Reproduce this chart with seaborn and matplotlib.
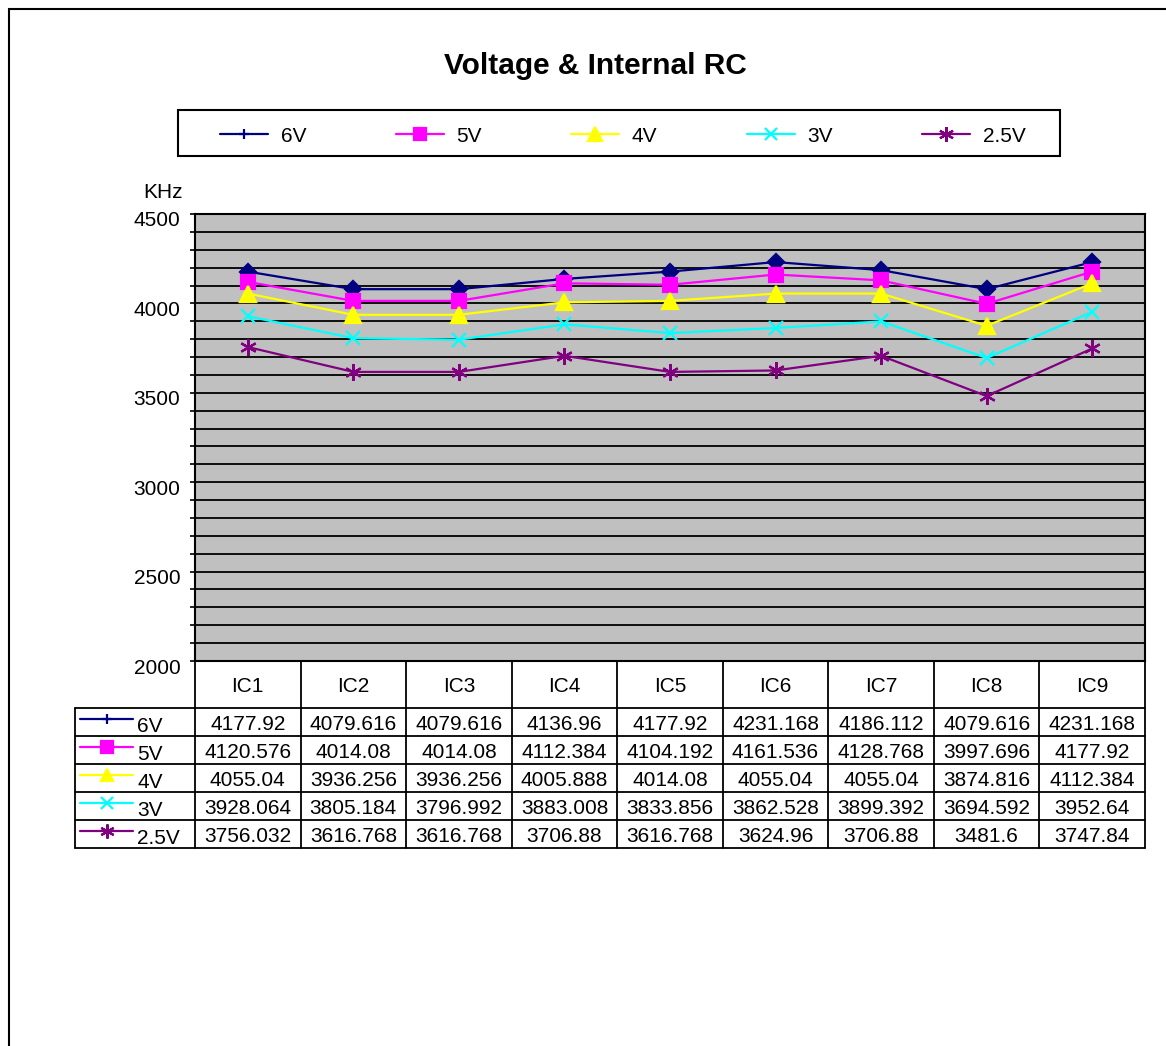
import pandas as pd
import matplotlib.pyplot as plt
import matplotlib.transforms as mtransforms
from matplotlib.lines import Line2D
from matplotlib.patches import Rectangle
import seaborn as sns

sns.set_style("white")
plt.rcParams["font.family"] = ["Liberation Sans", "DejaVu Sans"]
plt.rcParams["text.color"] = "black"
plt.rcParams["ytick.color"] = "black"
plt.rcParams["xtick.color"] = "black"

ics = ["IC1", "IC2", "IC3", "IC4", "IC5", "IC6", "IC7", "IC8", "IC9"]
voltages = ["6V", "5V", "4V", "3V", "2.5V"]
v6 = [4177.92, 4079.616, 4079.616, 4136.96, 4177.92, 4231.168, 4186.112, 4079.616, 4231.168]
v5 = [4120.576, 4014.08, 4014.08, 4112.384, 4104.192, 4161.536, 4128.768, 3997.696, 4177.92]
v4 = [4055.04, 3936.256, 3936.256, 4005.888, 4014.08, 4055.04, 4055.04, 3874.816, 4112.384]
v3 = [3928.064, 3805.184, 3796.992, 3883.008, 3833.856, 3862.528, 3899.392, 3694.592, 3952.64]
v25 = [3756.032, 3616.768, 3616.768, 3706.88, 3616.768, 3624.96, 3706.88, 3481.6, 3747.84]
series = [v6, v5, v4, v3, v25]

colors = ["#000080", "#FF00FF", "#FFFF00", "#00FFFF", "#800080"]
plot_markers = ["D", "s", "^", "x", (6, 2, 0)]
legend_markers = ["+", "s", "^", "x", (6, 2, 0)]
marker_sizes = [8, 10, 11, 10, 12]

df = pd.DataFrame(
    [(v, ic, val) for v, vals in zip(voltages, series) for ic, val in zip(ics, vals)],
    columns=["Voltage", "IC", "KHz"],
)

W, H = 1166, 1046
fig = plt.figure(figsize=(W / 100, H / 100), dpi=100)


def fx(x):
    return x / W


def fy(y):
    return 1 - y / H


# outer frame
fig.patches.append(Rectangle((fx(9), fy(H + 5)), 2, fy(9) - fy(H + 5),
                             transform=fig.transFigure, fill=False,
                             edgecolor="black", lw=1.5))

ax_l, ax_r, ax_t, ax_b = 195, 1145, 214, 661
ax = fig.add_axes([fx(ax_l), fy(ax_b), fx(ax_r - ax_l), fy(ax_t) - fy(ax_b)])
ax.set_facecolor("#C0C0C0")

for v, c, m, ms in zip(voltages, colors, plot_markers, marker_sizes):
    sub = df[df["Voltage"] == v]
    sns.lineplot(data=sub, x="IC", y="KHz", color=c, marker=m, markersize=ms,
                 markeredgecolor=c, markeredgewidth=1.6, linewidth=1.6,
                 ax=ax, zorder=3)

ax.set_xlim(-0.5, len(ics) - 0.5)
ax.set_ylim(2000, 4500)
ax.set_yticks(range(2000, 4501, 500))
ax.set_yticks(range(2000, 4501, 100), minor=True)
ax.grid(True, which="both", axis="y", color="black", lw=1.3)
ax.set_axisbelow(True)
ax.set_xticks([])
ax.set_xlabel("")
ax.set_ylabel("")
ax.tick_params(axis="y", which="both", direction="out", length=3.5, width=1.2,
               labelsize=15, pad=7, left=True)
shift = mtransforms.ScaledTranslation(0, -0.05, fig.dpi_scale_trans)
for lbl in ax.get_yticklabels():
    lbl.set_transform(lbl.get_transform() + shift)
for s in ax.spines.values():
    s.set_color("black")
    s.set_linewidth(1.5)

fig.text(fx(163), fy(193), "KHz", ha="center", va="center", fontsize=15)
fig.text(fx(595), fy(66), "Voltage & Internal RC",
         ha="center", va="center", fontsize=21.5, fontweight="bold")

# legend, framed by a fixed box
leg_l, leg_r, leg_t, leg_b = 178, 1060, 110, 156
fig.patches.append(Rectangle((fx(leg_l), fy(leg_b)), fx(leg_r - leg_l),
                             fy(leg_t) - fy(leg_b), transform=fig.transFigure,
                             fill=False, edgecolor="black", lw=1.5))
handles = [Line2D([], [], color=c, marker=m, markersize=ms * 0.9, markeredgecolor=c,
                  markeredgewidth=1.6, lw=1.6)
           for c, m, ms in zip(colors, legend_markers, marker_sizes)]
leg = fig.legend(handles, voltages, loc="center", ncol=5,
                 bbox_to_anchor=(fx((leg_l + leg_r) / 2 + 4), fy((leg_t + leg_b) / 2 + 3)),
                 fontsize=15, frameon=False, handlelength=2.3,
                 handletextpad=0.6, borderaxespad=0, columnspacing=4.3)

# data table
tr = mtransforms.blended_transform_factory(ax.transData, fig.transFigure)
head_b = 708
row_h = 28
tab_l = 75
n_rows = len(voltages)
tab_b = head_b + row_h * n_rows
lw = 1.3

for i in range(len(ics) + 1):
    ax_x = i - 0.5
    fig.add_artist(Line2D([ax_x, ax_x], [fy(ax_b), fy(tab_b)], transform=tr,
                          color="black", lw=lw))
for i, ic in enumerate(ics):
    fig.text(i, fy((ax_b + head_b) / 2 + 2), ic, transform=tr,
             ha="center", va="center", fontsize=15)

fig.add_artist(Line2D([fx(tab_l), fx(tab_l)], [fy(head_b), fy(tab_b)],
                      transform=fig.transFigure, color="black", lw=lw))
for r in range(n_rows + 1):
    y = head_b + r * row_h
    fig.add_artist(Line2D([fx(tab_l), fx(ax_r)], [fy(y), fy(y)],
                          transform=fig.transFigure, color="black", lw=lw))

for r, (v, vals, c, m, ms) in enumerate(zip(voltages, series, colors,
                                             legend_markers, marker_sizes)):
    yc = head_b + r * row_h + row_h / 2
    fig.add_artist(Line2D([fx(80), fx(133)], [fy(yc - 3), fy(yc - 3)],
                          transform=fig.transFigure, color=c, lw=1.6))
    fig.add_artist(Line2D([fx(106.5)], [fy(yc - 3)], transform=fig.transFigure,
                          color=c, marker=m, markersize=ms * 0.85,
                          markeredgecolor=c, markeredgewidth=1.6, lw=0))
    fig.text(fx(137), fy(yc + 5), v, ha="left", va="center", fontsize=15)
    for i, val in enumerate(vals):
        fig.text(i, fy(yc + 2), str(val), transform=tr,
                 ha="center", va="center", fontsize=15)

fig.savefig("out.png", dpi=100)
